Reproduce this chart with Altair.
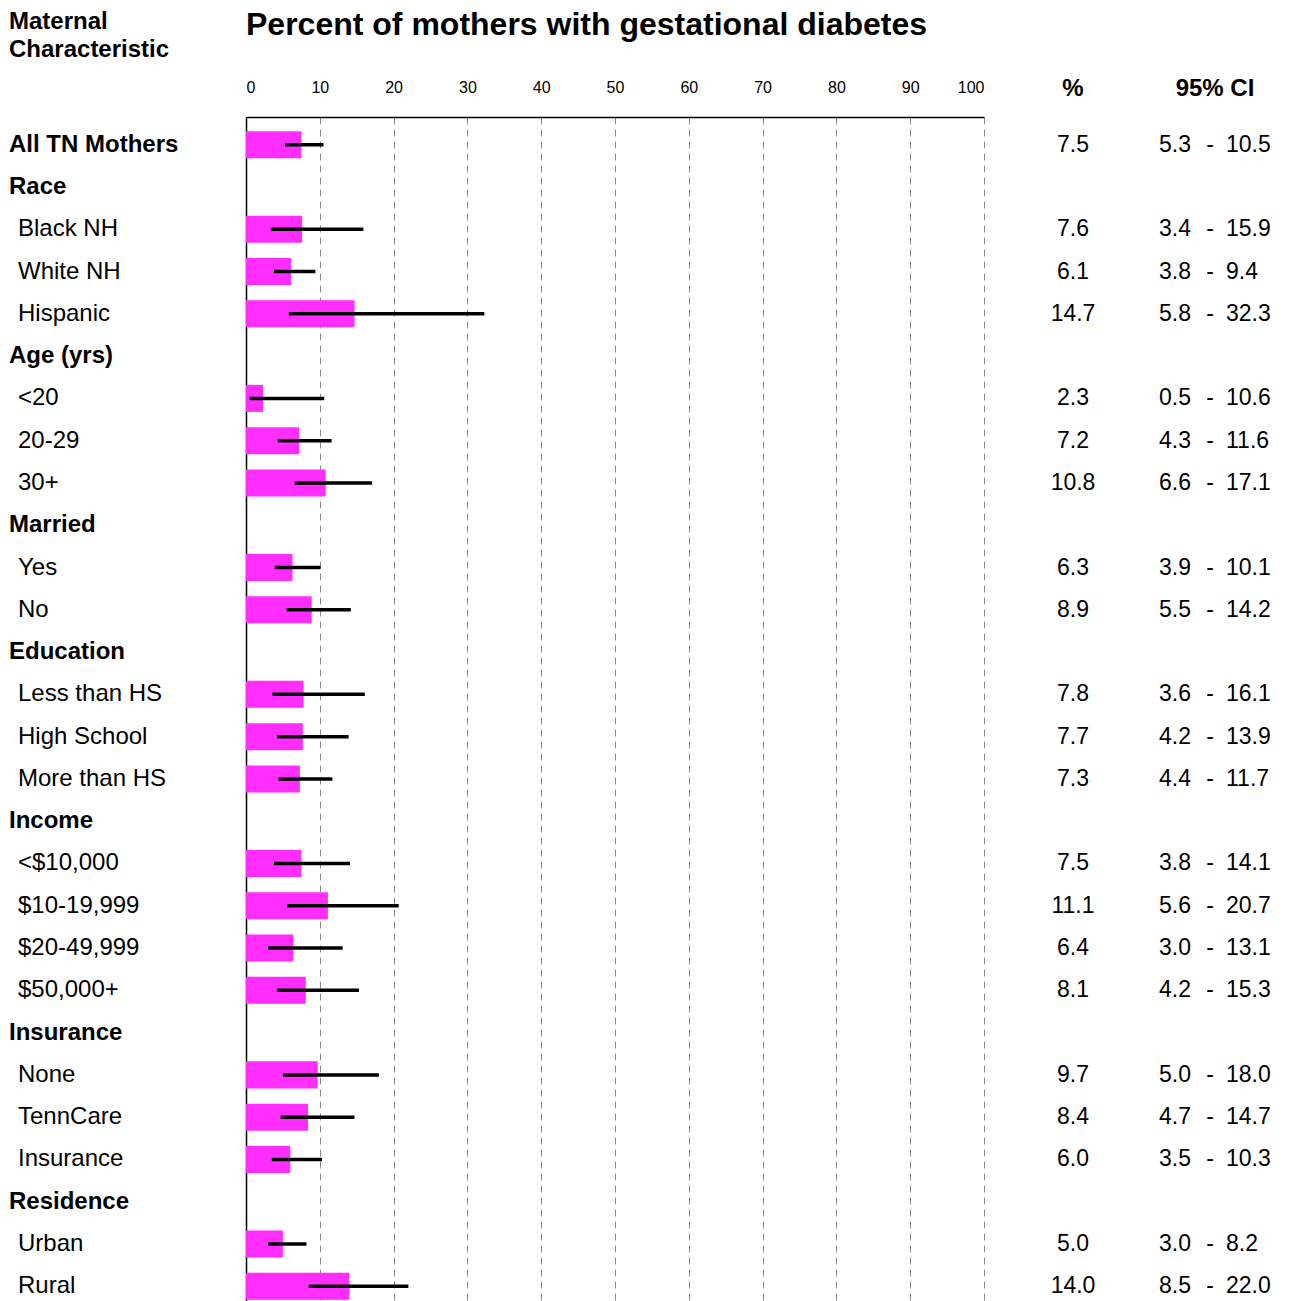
import altair as alt
import pandas as pd

labels = ["All TN Mothers", "Race", "Black NH", "White NH", "Hispanic",
          "Age (yrs)", "<20", "20-29", "30+",
          "Married", "Yes", "No",
          "Education", "Less than HS", "High School", "More than HS",
          "Income", "<$10,000", "$10-19,999", "$20-49,999", "$50,000+",
          "Insurance", "None", "TennCare", "Insurance",
          "Residence", "Urban", "Rural"]
is_header = [True, True, False, False, False,
             True, False, False, False,
             True, False, False,
             True, False, False, False,
             True, False, False, False, False,
             True, False, False, False,
             True, False, False]
pct = [7.5, None, 7.6, 6.1, 14.7,
       None, 2.3, 7.2, 10.8,
       None, 6.3, 8.9,
       None, 7.8, 7.7, 7.3,
       None, 7.5, 11.1, 6.4, 8.1,
       None, 9.7, 8.4, 6.0,
       None, 5.0, 14.0]
lower = [5.3, None, 3.4, 3.8, 5.8,
         None, 0.5, 4.3, 6.6,
         None, 3.9, 5.5,
         None, 3.6, 4.2, 4.4,
         None, 3.8, 5.6, 3.0, 4.2,
         None, 5.0, 4.7, 3.5,
         None, 3.0, 8.5]
upper = [10.5, None, 15.9, 9.4, 32.3,
         None, 10.6, 11.6, 17.1,
         None, 10.1, 14.2,
         None, 16.1, 13.9, 11.7,
         None, 14.1, 20.7, 13.1, 15.3,
         None, 18.0, 14.7, 10.3,
         None, 8.2, 22.0]

x_ticks = list(range(0, 101, 10))
title_text = "Percent of mothers with gestational diabetes"
left_header = ["Maternal", "Characteristic"]
col_headers = ["%", "95% CI"]

df = pd.DataFrame({
    "row": list(range(len(labels))),
    "label": labels,
    "hdr": is_header,
    "pct": pct,
    "lower": lower,
    "upper": upper,
})

FONT = "Liberation Sans"
FS = 24
NS = 23

y_enc = alt.Y("row:O",
              scale=alt.Scale(paddingInner=0.361, paddingOuter=0.336),
              axis=alt.Axis(labels=False, ticks=False, title=None, grid=False,
                            domainColor="black", domainWidth=1.5))

base = alt.Chart(df)

bars = base.transform_filter("datum.pct != null").mark_bar(color="#FF2EFF").encode(
    x=alt.X("pct:Q", scale=alt.Scale(domain=[0, 100], nice=False),
            axis=alt.Axis(orient="top", values=x_ticks, title=None,
                          ticks=False, tickSize=0, labelPadding=22,
                          labelFont=FONT, labelFontSize=16,
                          labelColor="black", labelAngle=0,
                          grid=True, gridDash=[7, 5], gridColor="#8a8a8a",
                          gridWidth=1, domainColor="black", domainWidth=1.5)),
    y=y_enc,
)

rules = base.transform_filter("datum.pct != null").mark_rule(
    color="black", strokeWidth=3.5).encode(
    x="lower:Q", x2="upper:Q", y=y_enc)

hdr_text = base.transform_filter("datum.hdr").mark_text(
    align="left", baseline="middle", font=FONT, fontSize=FS, fontWeight="bold",
    color="black").encode(x=alt.value(-237), y=y_enc, text="label:N")

item_text = base.transform_filter("!datum.hdr").mark_text(
    align="left", baseline="middle", font=FONT, fontSize=FS,
    color="black").encode(x=alt.value(-228), y=y_enc, text="label:N")

pct_text = base.transform_filter("datum.pct != null").mark_text(
    align="center", baseline="middle", font=FONT, fontSize=NS,
    color="black").encode(x=alt.value(827), y=y_enc,
                          text=alt.Text("pct:Q", format=".1f"))

low_text = base.transform_filter("datum.pct != null").mark_text(
    align="left", baseline="middle", font=FONT, fontSize=NS,
    color="black").encode(x=alt.value(913), y=y_enc,
                          text=alt.Text("lower:Q", format=".1f"))

dash_text = base.transform_filter("datum.pct != null").mark_text(
    align="center", baseline="middle", font=FONT, fontSize=NS,
    color="black").encode(x=alt.value(964), y=y_enc, text=alt.value("-"))

up_text = base.transform_filter("datum.pct != null").mark_text(
    align="left", baseline="middle", font=FONT, fontSize=NS,
    color="black").encode(x=alt.value(980), y=y_enc,
                          text=alt.Text("upper:Q", format=".1f"))

title = alt.Chart(pd.DataFrame({"t": [title_text]})).mark_text(
    align="left", baseline="middle", font=FONT, fontSize=32, fontWeight="bold",
    color="black").encode(x=alt.value(0), y=alt.value(-92), text="t:N")

lh1 = alt.Chart(pd.DataFrame({"t": [left_header[0]]})).mark_text(
    align="left", baseline="middle", font=FONT, fontSize=FS, fontWeight="bold",
    color="black").encode(x=alt.value(-237), y=alt.value(-95), text="t:N")
lh2 = alt.Chart(pd.DataFrame({"t": [left_header[1]]})).mark_text(
    align="left", baseline="middle", font=FONT, fontSize=FS, fontWeight="bold",
    color="black").encode(x=alt.value(-237), y=alt.value(-67.5), text="t:N")

ch1 = alt.Chart(pd.DataFrame({"t": [col_headers[0]]})).mark_text(
    align="center", baseline="middle", font=FONT, fontSize=FS, fontWeight="bold",
    color="black").encode(x=alt.value(827), y=alt.value(-27.7), text="t:N")
ch2 = alt.Chart(pd.DataFrame({"t": [col_headers[1]]})).mark_text(
    align="center", baseline="middle", font=FONT, fontSize=FS, fontWeight="bold",
    color="black").encode(x=alt.value(969), y=alt.value(-27.7), text="t:N")

chart = alt.layer(
    bars, rules, hdr_text, item_text, pct_text, low_text, dash_text, up_text,
    title, lh1, lh2, ch1, ch2
).properties(
    width=738, height=1197,
    padding={"left": 1, "top": 1, "right": 5, "bottom": 5},
    background="white",
).configure_view(stroke=None)

chart.save("out.html", embed_options={"renderer": "svg", "actions": False})
